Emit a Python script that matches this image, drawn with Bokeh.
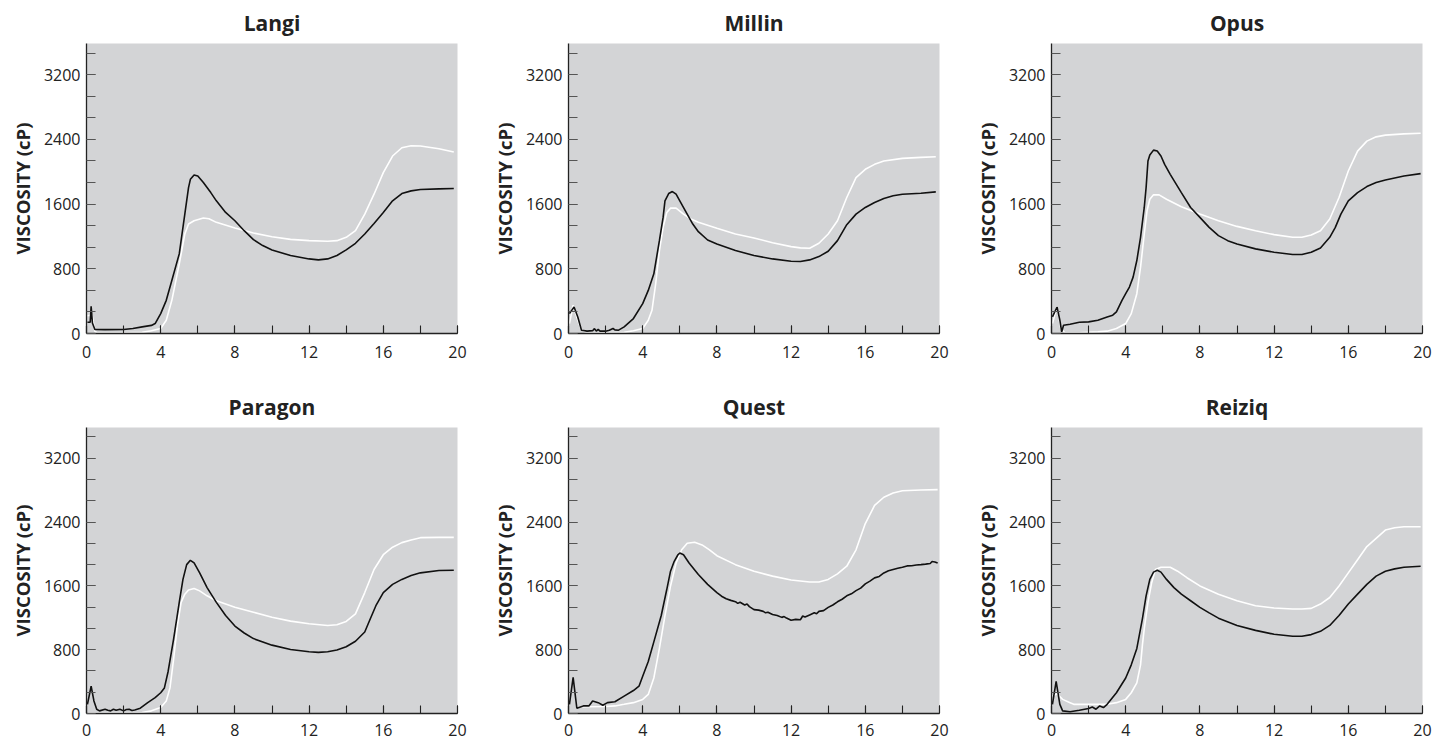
from bokeh.plotting import figure
from bokeh.layouts import column, row
from bokeh.models import FixedTicker, Range1d
from bokeh.embed import file_html
from bokeh.resources import INLINE

# ---------------- data ----------------
titles = ["Langi", "Millin", "Opus", "Paragon", "Quest", "Reiziq"]
x_ticks = [0, 4, 8, 12, 16, 20]
x_minor = [0, 2, 4, 6, 8, 10, 12, 14, 16, 18, 20]
y_ticks = [0, 800, 1600, 2400, 3200]
y_minor = [i * 800 / 3 for i in range(14)]

langi_black_x = [0.05, 0.2, 0.25, 0.32, 0.45, 1.0, 2.0, 2.5, 3.0, 3.5, 3.7, 4.0, 4.3, 4.6, 5.0, 5.3, 5.5, 5.6, 5.8, 6.0, 6.3, 6.7, 7.0, 7.5, 8.0, 8.5, 9.0, 9.5, 10.0, 11.0, 12.0, 12.5, 13.0, 13.5, 14.0, 14.5, 15.0, 15.5, 16.0, 16.5, 17.0, 17.5, 18.0, 19.0, 19.8]
langi_black_y = [140, 140, 336, 130, 50, 48, 50, 62, 82, 100, 123, 246, 410, 656, 984, 1476, 1804, 1906, 1960, 1948, 1866, 1742, 1640, 1497, 1394, 1271, 1160, 1087, 1033, 964, 922, 910, 922, 964, 1033, 1115, 1230, 1361, 1497, 1640, 1730, 1763, 1780, 1788, 1792]
langi_white_x = [0.05, 0.3, 0.45, 0.55, 1.0, 2.0, 3.0, 3.5, 4.0, 4.3, 4.6, 5.0, 5.3, 5.5, 5.8, 6.3, 6.6, 7.0, 8.0, 9.0, 10.0, 11.0, 12.0, 13.0, 13.5, 14.0, 14.5, 15.0, 15.5, 16.0, 16.5, 17.0, 17.5, 18.0, 19.0, 19.8]
langi_white_y = [220, 230, 30, 10, 10, 10, 14, 33, 62, 164, 410, 861, 1230, 1353, 1394, 1427, 1419, 1374, 1304, 1242, 1197, 1164, 1148, 1140, 1148, 1189, 1271, 1476, 1722, 1989, 2194, 2296, 2321, 2317, 2284, 2243]

millin_black_x = [0.05, 0.3, 0.5, 0.7, 1.0, 1.3, 1.4, 1.5, 1.6, 1.7, 2.0, 2.2, 2.4, 2.5, 2.7, 3.0, 3.5, 4.0, 4.3, 4.6, 4.9, 5.1, 5.2, 5.4, 5.6, 5.8, 6.0, 6.3, 6.7, 7.0, 7.5, 8.0, 9.0, 10.0, 11.0, 12.0, 12.5, 13.0, 13.5, 14.0, 14.5, 15.0, 15.5, 16.0, 16.5, 17.0, 17.5, 18.0, 19.0, 19.8]
millin_black_y = [246, 328, 205, 41, 29, 35, 60, 30, 50, 29, 29, 40, 62, 45, 41, 82, 185, 369, 533, 738, 1148, 1435, 1640, 1730, 1755, 1722, 1640, 1517, 1353, 1259, 1156, 1107, 1025, 964, 922, 894, 890, 910, 951, 1017, 1148, 1345, 1476, 1558, 1620, 1669, 1702, 1722, 1734, 1751]
millin_white_x = [0.05, 0.25, 0.5, 0.7, 1.0, 2.0, 3.0, 3.5, 4.0, 4.3, 4.5, 4.7, 4.9, 5.1, 5.3, 5.5, 5.8, 6.2, 6.6, 7.0, 8.0, 9.0, 10.0, 11.0, 12.0, 12.5, 13.0, 13.5, 14.0, 14.5, 15.0, 15.5, 16.0, 16.5, 17.0, 18.0, 19.0, 19.8]
millin_white_y = [123, 349, 164, 41, 12, 10, 14, 33, 62, 164, 287, 615, 1025, 1312, 1497, 1550, 1550, 1476, 1415, 1374, 1300, 1230, 1181, 1123, 1074, 1058, 1054, 1115, 1230, 1394, 1681, 1927, 2030, 2091, 2132, 2165, 2177, 2185]

opus_black_x = [0.05, 0.3, 0.45, 0.55, 0.65, 1.0, 1.5, 2.0, 2.5, 3.0, 3.3, 3.5, 3.8, 4.0, 4.2, 4.4, 4.6, 4.8, 5.0, 5.1, 5.2, 5.3, 5.5, 5.7, 5.9, 6.1, 6.4, 7.0, 7.5, 8.0, 8.5, 9.0, 9.5, 10.0, 11.0, 12.0, 13.0, 13.5, 14.0, 14.5, 15.0, 15.3, 15.6, 16.0, 16.5, 17.0, 17.5, 18.0, 19.0, 19.9]
opus_black_y = [205, 328, 164, 20, 102, 115, 139, 144, 164, 205, 226, 267, 410, 492, 574, 697, 902, 1189, 1558, 1804, 2132, 2206, 2267, 2255, 2194, 2091, 1968, 1742, 1558, 1435, 1312, 1210, 1148, 1107, 1046, 1005, 976, 976, 1005, 1058, 1189, 1312, 1476, 1640, 1742, 1816, 1866, 1898, 1948, 1976]
opus_white_x = [0.05, 0.3, 0.5, 0.7, 1.5, 2.5, 3.0, 3.5, 4.0, 4.3, 4.6, 4.8, 5.0, 5.15, 5.3, 5.5, 5.8, 6.2, 7.0, 8.0, 9.0, 10.0, 11.0, 12.0, 13.0, 13.5, 14.0, 14.5, 15.0, 15.5, 16.0, 16.5, 17.0, 17.5, 18.0, 19.0, 19.9]
opus_white_y = [123, 336, 62, 12, 10, 20, 29, 62, 123, 246, 492, 820, 1230, 1517, 1660, 1714, 1714, 1660, 1566, 1476, 1394, 1324, 1271, 1222, 1189, 1189, 1218, 1271, 1415, 1681, 2009, 2255, 2378, 2431, 2452, 2468, 2476]

paragon_black_x = [0.05, 0.25, 0.4, 0.55, 0.7, 1.0, 1.15, 1.3, 1.45, 1.6, 1.8, 2.0, 2.15, 2.3, 2.45, 2.6, 2.9, 3.3, 3.7, 4.0, 4.2, 4.4, 4.7, 5.0, 5.2, 5.4, 5.6, 5.8, 6.1, 6.5, 7.0, 7.5, 8.0, 8.5, 9.0, 10.0, 11.0, 12.0, 12.5, 13.0, 13.5, 14.0, 14.5, 15.0, 15.3, 15.6, 16.0, 16.5, 17.0, 17.5, 18.0, 19.0, 19.8]
paragon_black_y = [115, 342, 157, 54, 33, 54, 40, 33, 54, 40, 54, 33, 50, 54, 38, 45, 66, 136, 198, 260, 321, 527, 939, 1393, 1681, 1866, 1920, 1887, 1763, 1578, 1393, 1228, 1096, 1009, 939, 857, 803, 775, 766, 775, 795, 836, 906, 1022, 1187, 1351, 1516, 1619, 1681, 1730, 1763, 1792, 1796]
paragon_white_x = [0.05, 1.0, 2.0, 3.0, 3.5, 4.0, 4.3, 4.5, 4.7, 4.9, 5.1, 5.3, 5.5, 5.8, 6.1, 6.5, 7.0, 8.0, 9.0, 10.0, 11.0, 12.0, 13.0, 13.5, 14.0, 14.5, 15.0, 15.5, 16.0, 16.5, 17.0, 17.5, 18.0, 19.0, 19.8]
paragon_white_y = [8, 8, 8, 12, 33, 74, 157, 321, 692, 1104, 1393, 1496, 1549, 1566, 1537, 1475, 1413, 1331, 1269, 1207, 1158, 1125, 1104, 1112, 1154, 1248, 1516, 1805, 1990, 2085, 2142, 2175, 2204, 2208, 2208]

quest_black_x = [0.05, 0.25, 0.45, 0.8, 1.1, 1.3, 1.6, 1.85, 2.1, 2.5, 3.0, 3.5, 3.8, 4.0, 4.3, 4.6, 5.0, 5.3, 5.5, 5.7, 5.9, 6.0, 6.2, 6.5, 7.0, 7.5, 8.0, 8.25, 8.5, 8.75, 9.0, 9.125, 9.25, 9.5, 9.625, 9.75, 10.0, 10.25, 10.5, 10.625, 10.75, 11.0, 11.25, 11.5, 11.625, 11.75, 12.0, 12.25, 12.5, 12.625, 12.75, 13.0, 13.25, 13.375, 13.5, 13.75, 14.0, 14.25, 14.5, 14.75, 15.0, 15.25, 15.5, 15.75, 16.0, 16.25, 16.5, 16.75, 17.0, 17.25, 17.5, 17.75, 18.0, 18.25, 18.5, 18.75, 19.0, 19.25, 19.5, 19.6, 19.75, 19.9]
quest_black_y = [115, 453, 66, 95, 95, 157, 136, 103, 136, 148, 218, 288, 342, 466, 651, 898, 1228, 1557, 1784, 1908, 1990, 2011, 1990, 1887, 1743, 1619, 1516, 1470, 1438, 1418, 1402, 1380, 1395, 1360, 1372, 1340, 1302, 1296, 1280, 1262, 1270, 1240, 1228, 1205, 1215, 1196, 1168, 1180, 1175, 1222, 1210, 1236, 1262, 1250, 1280, 1290, 1330, 1360, 1400, 1432, 1475, 1500, 1540, 1572, 1625, 1660, 1700, 1718, 1762, 1790, 1805, 1820, 1833, 1850, 1852, 1862, 1866, 1872, 1880, 1905, 1898, 1885]
quest_white_x = [0.6, 1.0, 2.0, 2.5, 3.0, 3.5, 4.0, 4.3, 4.6, 4.9, 5.2, 5.5, 5.8, 6.1, 6.4, 6.8, 7.2, 7.6, 8.0, 9.0, 10.0, 11.0, 12.0, 13.0, 13.5, 14.0, 14.5, 15.0, 15.5, 16.0, 16.5, 17.0, 17.5, 18.0, 19.0, 19.9]
quest_white_y = [82, 85, 88, 95, 115, 136, 177, 239, 445, 816, 1228, 1599, 1887, 2052, 2134, 2146, 2113, 2052, 1978, 1866, 1784, 1722, 1673, 1648, 1648, 1681, 1751, 1846, 2052, 2381, 2608, 2711, 2765, 2793, 2802, 2806]

reiziq_black_x = [0.05, 0.25, 0.45, 0.6, 1.0, 1.5, 2.0, 2.2, 2.4, 2.6, 2.8, 3.0, 3.5, 4.0, 4.3, 4.6, 4.9, 5.1, 5.3, 5.5, 5.7, 5.9, 6.2, 6.6, 7.0, 7.5, 8.0, 8.5, 9.0, 10.0, 11.0, 12.0, 13.0, 13.5, 14.0, 14.5, 15.0, 15.5, 16.0, 16.5, 17.0, 17.5, 18.0, 18.5, 19.0, 19.9]
reiziq_black_y = [115, 404, 115, 33, 21, 41, 62, 82, 54, 95, 74, 115, 260, 445, 610, 816, 1187, 1475, 1681, 1772, 1796, 1772, 1681, 1578, 1496, 1413, 1331, 1261, 1195, 1104, 1042, 993, 968, 968, 989, 1030, 1104, 1228, 1372, 1496, 1619, 1722, 1784, 1813, 1833, 1846]
reiziq_white_x = [0.05, 0.3, 0.6, 1.0, 1.2, 2.0, 3.0, 3.5, 4.0, 4.3, 4.6, 4.8, 4.9, 5.0, 5.2, 5.4, 5.6, 5.9, 6.4, 6.8, 7.3, 8.0, 9.0, 10.0, 11.0, 12.0, 13.0, 13.5, 14.0, 14.5, 15.0, 15.5, 16.0, 16.5, 17.0, 17.5, 18.0, 18.5, 19.0, 19.9]
reiziq_white_y = [218, 247, 177, 136, 115, 115, 115, 136, 177, 260, 383, 610, 857, 1063, 1393, 1640, 1805, 1833, 1833, 1784, 1702, 1599, 1496, 1413, 1351, 1323, 1310, 1310, 1318, 1372, 1454, 1599, 1763, 1928, 2093, 2196, 2299, 2328, 2340, 2340]

black_series = [(langi_black_x, langi_black_y), (millin_black_x, millin_black_y), (opus_black_x, opus_black_y),
                (paragon_black_x, paragon_black_y), (quest_black_x, quest_black_y), (reiziq_black_x, reiziq_black_y)]
white_series = [(langi_white_x, langi_white_y), (millin_white_x, millin_white_y), (opus_white_x, opus_white_y),
                (paragon_white_x, paragon_white_y), (quest_white_x, quest_white_y), (reiziq_white_x, reiziq_white_y)]

# ---------------- styling ----------------
BG = "#d3d4d6"
INK = "#222222"
TICK = "#555555"
FONT = "Open Sans"

FRAME_W = 371
FRAME_H = 290
col_widths = [488, 483, 476]
col_left = [86, 80, 80]
row_heights = [384, 359]
row_top = [43, 39]
row_standoff = [12, 10]


def make_panel(i):
    r, c = divmod(i, 3)
    p = figure(width=col_widths[c], height=row_heights[r],
               x_range=Range1d(0, 20), y_range=Range1d(0, 3585),
               output_backend="svg", toolbar_location=None,
               min_border_left=col_left[c],
               min_border_right=col_widths[c] - col_left[c] - FRAME_W,
               min_border_top=row_top[r],
               min_border_bottom=row_heights[r] - row_top[r] - FRAME_H)
    p.title.text = titles[i]
    p.title.align = "center"
    p.title.text_font = FONT
    p.title.text_font_size = "21px"
    p.title.text_font_style = "bold"
    p.title.text_color = INK
    p.title.standoff = 13
    p.background_fill_color = BG
    p.border_fill_color = "white"
    p.outline_line_color = None
    p.xgrid.visible = False
    p.ygrid.visible = False

    p.xaxis.ticker = FixedTicker(ticks=x_ticks, minor_ticks=x_minor)
    p.yaxis.ticker = FixedTicker(ticks=y_ticks, minor_ticks=y_minor)
    for ax in (p.xaxis[0], p.yaxis[0]):
        ax.axis_line_color = INK
        ax.axis_line_width = 1.3
        ax.major_tick_line_color = TICK
        ax.minor_tick_line_color = TICK
        ax.major_tick_line_width = 1.1
        ax.minor_tick_line_width = 1.1
        ax.major_tick_out = 0
        ax.minor_tick_out = 0
        ax.major_label_text_font = FONT
        ax.major_label_text_font_size = "16px"
        ax.major_label_text_color = INK
    p.xaxis.major_tick_line_color = INK
    p.xaxis.minor_tick_line_color = INK
    p.xaxis.major_tick_in = 8
    p.xaxis.minor_tick_in = 8
    p.xaxis.major_label_standoff = row_standoff[r]
    p.yaxis.major_tick_in = 9
    p.yaxis.minor_tick_in = 9
    p.yaxis.major_label_standoff = 6
    p.yaxis.axis_label = "VISCOSITY (cP)"
    p.yaxis.axis_label_text_font = FONT
    p.yaxis.axis_label_text_font_size = "18.5px"
    p.yaxis.axis_label_text_font_style = "bold"
    p.yaxis.axis_label_text_color = INK
    p.yaxis.axis_label_standoff = 6

    wx, wy = white_series[i]
    bx, by = black_series[i]
    p.line(wx, wy, line_color="white", line_width=1.6)
    p.line(bx, by, line_color="#111111", line_width=1.6)
    return p


panels = [make_panel(i) for i in range(6)]
layout = column(row(*panels[:3]), row(*panels[3:]))

open("out.html", "w").write(file_html(layout, INLINE))
